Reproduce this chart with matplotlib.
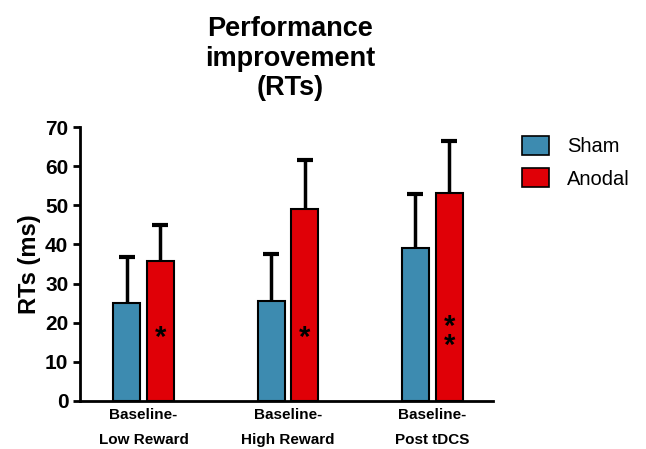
import numpy as np
import matplotlib.pyplot as plt
from matplotlib.patches import Patch

plt.rcParams['font.family'] = ['Liberation Sans', 'DejaVu Sans']

# Mean RT improvement and SEM per condition
conditions = ['Baseline-\nLow Reward', 'Baseline-\nHigh Reward', 'Baseline-\nPost tDCS']
sham = [25.0, 25.5, 39.1]
sham_err = [11.8, 12.0, 13.8]
anodal = [35.8, 49.0, 53.1]
anodal_err = [9.2, 12.6, 13.3]
stars = ['*', '*', '*\n*']

sham_color = '#3d8bb0'
anodal_color = '#e00007'

fig = plt.figure(figsize=(6.46, 4.49), dpi=100)
ax = fig.add_axes([0.124, 0.107, 0.639, 0.61])

x = np.arange(len(conditions))
w = 0.187
off = 0.117

# error bars sit behind the bars so only the upper half shows
ekw = dict(fmt='none', ecolor='black', elinewidth=2.5, capsize=6, capthick=3, zorder=1)
ax.errorbar(x - off, sham, yerr=sham_err, **ekw)
ax.errorbar(x + off, anodal, yerr=anodal_err, **ekw)
ax.bar(x - off, sham, w, color=sham_color, edgecolor='black', linewidth=1.5, zorder=2)
ax.bar(x + off, anodal, w, color=anodal_color, edgecolor='black', linewidth=1.5, zorder=2)

# significance markers inside the anodal bars
for xi, s in zip(x, stars):
    ypos = 16.0 if s == '*' else 16.5
    ax.text(xi + off, ypos, s, ha='center', va='center', fontsize=21,
            fontweight='bold', linespacing=0.55, zorder=3)

ax.set_xlim(-0.44, 2.42)
ax.set_ylim(0, 70)
ax.set_yticks(range(0, 71, 10))
ax.set_xticks(x)
ax.set_xticklabels(conditions, fontsize=11, fontweight='bold', linespacing=2.0)
ax.tick_params(axis='x', length=0, pad=5)
ax.tick_params(axis='y', width=2, length=5, labelsize=15)
for lbl in ax.get_yticklabels():
    lbl.set_fontweight('bold')

for side in ['top', 'right']:
    ax.spines[side].set_visible(False)
ax.spines['left'].set_linewidth(2)
ax.spines['bottom'].set_linewidth(2)

ax.set_ylabel('RTs (ms)', fontsize=17, fontweight='bold', labelpad=3)
fig.text(0.449, 0.964, 'Performance\nimprovement\n(RTs)', ha='center', va='top',
         fontsize=19.5, fontweight='bold', linespacing=1.18)

handles = [Patch(facecolor=sham_color, edgecolor='black', linewidth=1.2, label='Sham'),
           Patch(facecolor=anodal_color, edgecolor='black', linewidth=1.2, label='Anodal')]
fig.legend(handles=handles, loc='upper left', bbox_to_anchor=(0.79, 0.724),
           frameon=False, fontsize=14.5, handlelength=1.3, handleheight=1.05,
           labelspacing=0.6, handletextpad=0.9, borderaxespad=0, borderpad=0.6)

fig.savefig('out.png', dpi=100)
